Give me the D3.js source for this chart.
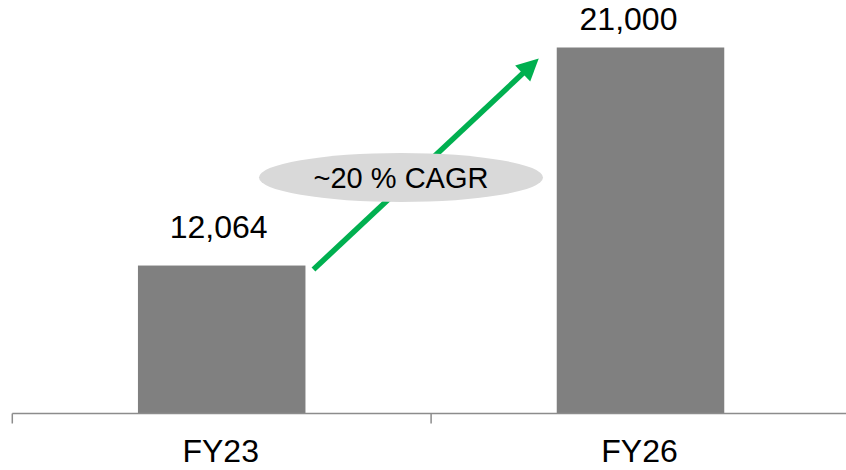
<!DOCTYPE html>
<html>
<head>
<meta charset="utf-8">
<script src="https://cdn.jsdelivr.net/npm/d3@7"></script>
<style>
  html, body { margin: 0; padding: 0; background: #fff; }
  svg { display: block; font-family: "Liberation Sans", Arial, sans-serif; }
</style>
</head>
<body>
<div id="chart"></div>
<script>
// Chart data
const categories = ['FY23', 'FY26'];
const values = [12064, 21000];
const valueLabels = ['12,064', '21,000'];
const cagrLabel = '~20 % CAGR';

const width = 846;
const height = 470;
const baseline = 413.5;

const svg = d3.select('#chart')
  .append('svg')
  .attr('width', width)
  .attr('height', height);

// Band scale across the whole width, narrow bars
const x = d3.scaleBand()
  .domain(categories)
  .range([12.3, 849.9])
  .paddingInner(0.6)
  .paddingOuter(0.3);

// The value axis does not start at zero in the original
const y = d3.scaleLinear()
  .domain([6000, 21000])
  .range([baseline, 47.5]);

// Bars
svg.append('g')
  .selectAll('rect')
  .data(values)
  .enter()
  .append('rect')
  .attr('x', (d, i) => x(categories[i]))
  .attr('y', d => y(d))
  .attr('width', x.bandwidth())
  .attr('height', d => baseline - y(d))
  .attr('fill', '#808080');

// Category axis: line with ticks between the bands
const step = x.step();
const axisG = svg.append('g').attr('stroke', '#8c8c8c').attr('stroke-width', 1.5);
axisG.append('line')
  .attr('x1', x.range()[0]).attr('x2', x.range()[1])
  .attr('y1', baseline).attr('y2', baseline);
axisG.selectAll('.tick')
  .data(d3.range(categories.length + 1))
  .enter()
  .append('line')
  .attr('x1', i => x.range()[0] + i * step)
  .attr('x2', i => x.range()[0] + i * step)
  .attr('y1', baseline)
  .attr('y2', baseline + 10);

svg.append('g')
  .selectAll('text')
  .data(categories)
  .enter()
  .append('text')
  .attr('x', d => x(d) + x.bandwidth() / 2 - 1)
  .attr('y', 462)
  .attr('text-anchor', 'middle')
  .attr('font-size', 32)
  .attr('fill', '#000')
  .text(d => d);

// Value labels above bars (small nudges to follow the original)
const labelNudge = [{ dx: -3, dy: -28 }, { dx: -12, dy: -18 }];
svg.append('g')
  .selectAll('text')
  .data(values)
  .enter()
  .append('text')
  .attr('x', (d, i) => x(categories[i]) + x.bandwidth() / 2 + labelNudge[i].dx)
  .attr('y', (d, i) => y(d) + labelNudge[i].dy)
  .attr('text-anchor', 'middle')
  .attr('font-size', 32)
  .attr('fill', '#000')
  .text((d, i) => valueLabels[i]);

// Growth arrow from the first bar to the second
const x0 = x(categories[0]) + x.bandwidth() + 8;
const y0 = y(values[0]) + 4;
const x1 = x(categories[1]) - 18;
const y1 = y(values[1]) + 11;
const ang = Math.atan2(y1 - y0, x1 - x0);
const headLen = 22;
const headHalf = 11;
const green = '#00b050';

svg.append('line')
  .attr('x1', x0).attr('y1', y0)
  .attr('x2', x1 - headLen * 0.8 * Math.cos(ang))
  .attr('y2', y1 - headLen * 0.8 * Math.sin(ang))
  .attr('stroke', green)
  .attr('stroke-width', 5.5);

const bx = x1 - headLen * Math.cos(ang);
const by = y1 - headLen * Math.sin(ang);
svg.append('path')
  .attr('d', d3.line()([
    [x1, y1],
    [bx + headHalf * Math.sin(ang), by - headHalf * Math.cos(ang)],
    [bx - headHalf * Math.sin(ang), by + headHalf * Math.cos(ang)]
  ]) + 'Z')
  .attr('fill', green);

// CAGR bubble
svg.append('ellipse')
  .attr('cx', 401)
  .attr('cy', 177.5)
  .attr('rx', 142)
  .attr('ry', 24.5)
  .attr('fill', '#d9d9d9');

svg.append('text')
  .attr('x', 401)
  .attr('y', 188)
  .attr('text-anchor', 'middle')
  .attr('font-size', 29)
  .attr('fill', '#000')
  .text(cagrLabel);
</script>
</body>
</html>
